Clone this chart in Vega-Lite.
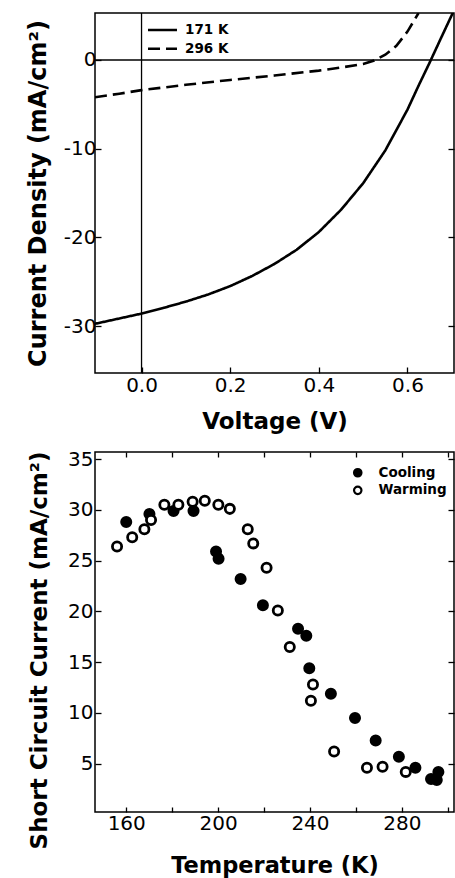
{
  "$schema": "https://vega.github.io/schema/vega-lite/v6.json",
  "padding": {"left": 25, "top": 11, "right": 0, "bottom": 0},
  "background": "white",
  "spacing": 14,
  "config": {
    "view": {"stroke": "black", "strokeWidth": 1.5},
    "font": "DejaVu Sans",
    "axis": {
      "grid": false, "domain": false, "ticks": true, "tickColor": "black", "tickWidth": 1.3, "tickSize": -6,
      "labelFont": "DejaVu Sans", "labelFontSize": 20, "labelColor": "black", "labelPadding": 5,
      "labelExpr": "replace(datum.label, '−', '-')",
      "titleFont": "DejaVu Sans", "titleFontWeight": "bold", "titleColor": "black", "titleFontSize": 23
    }
  },
  "vconcat": [
    {
      "width": 359,
      "height": 360,
      "resolve": {"axis": {"x": "independent", "y": "independent"}},
      "layer": [
        {
          "data": {"values": [
            {"voltage": -0.105, "current": -29.75, "series": "171 K"},
            {"voltage": -0.05, "current": -29.15, "series": "171 K"},
            {"voltage": 0.0, "current": -28.6, "series": "171 K"},
            {"voltage": 0.05, "current": -27.95, "series": "171 K"},
            {"voltage": 0.1, "current": -27.25, "series": "171 K"},
            {"voltage": 0.15, "current": -26.45, "series": "171 K"},
            {"voltage": 0.2, "current": -25.5, "series": "171 K"},
            {"voltage": 0.25, "current": -24.35, "series": "171 K"},
            {"voltage": 0.3, "current": -23.0, "series": "171 K"},
            {"voltage": 0.35, "current": -21.4, "series": "171 K"},
            {"voltage": 0.4, "current": -19.4, "series": "171 K"},
            {"voltage": 0.45, "current": -16.9, "series": "171 K"},
            {"voltage": 0.5, "current": -13.9, "series": "171 K"},
            {"voltage": 0.55, "current": -10.2, "series": "171 K"},
            {"voltage": 0.6, "current": -5.6, "series": "171 K"},
            {"voltage": 0.625, "current": -2.9, "series": "171 K"},
            {"voltage": 0.65, "current": -0.3, "series": "171 K"},
            {"voltage": 0.675, "current": 2.4, "series": "171 K"},
            {"voltage": 0.705, "current": 5.6, "series": "171 K"},
            {"voltage": -0.105, "current": -4.2, "series": "296 K"},
            {"voltage": -0.05, "current": -3.8, "series": "296 K"},
            {"voltage": 0.0, "current": -3.4, "series": "296 K"},
            {"voltage": 0.1, "current": -2.8, "series": "296 K"},
            {"voltage": 0.2, "current": -2.25, "series": "296 K"},
            {"voltage": 0.3, "current": -1.75, "series": "296 K"},
            {"voltage": 0.4, "current": -1.2, "series": "296 K"},
            {"voltage": 0.45, "current": -0.85, "series": "296 K"},
            {"voltage": 0.5, "current": -0.45, "series": "296 K"},
            {"voltage": 0.525, "current": -0.05, "series": "296 K"},
            {"voltage": 0.55, "current": 0.6, "series": "296 K"},
            {"voltage": 0.575, "current": 1.6, "series": "296 K"},
            {"voltage": 0.6, "current": 3.2, "series": "296 K"},
            {"voltage": 0.625, "current": 5.3, "series": "296 K"}
          ]},
          "mark": {"type": "line", "color": "black", "strokeWidth": 2.6, "clip": true},
          "encoding": {
            "x": {"field": "voltage", "type": "quantitative",
                  "scale": {"domain": [-0.105, 0.705], "nice": false, "zero": false},
                  "axis": {"values": [0, 0.2, 0.4, 0.6], "format": ".1f", "title": "Voltage (V)", "labelPadding": 8, "titlePadding": 15}},
            "y": {"field": "current", "type": "quantitative",
                  "scale": {"domain": [-35.3, 5.3], "nice": false, "zero": false},
                  "axis": {"values": [-30, -20, -10, 0], "title": "Current Density (mA/cm²)", "titleFontSize": 24, "titlePadding": 13}},
            "strokeDash": {"field": "series", "type": "nominal",
                  "scale": {"domain": ["171 K", "296 K"], "range": [[1, 0], [12, 6]]},
                  "legend": {"title": null, "orient": "none", "legendX": 59, "legendY": 8.5, "symbolType": "M-2,0H2", "symbolSize": 210, "symbolStrokeWidth": 2.5, "symbolStrokeColor": "black", "symbolFillColor": "transparent", "labelFont": "DejaVu Sans", "labelFontWeight": "bold", "labelFontSize": 13.5, "labelColor": "black", "labelOffset": 14, "padding": 0, "rowPadding": 3.8}},
            "detail": {"field": "series"}
          }
        },
        {
          "data": {"values": [{"current": 0}]},
          "mark": {"type": "rule", "color": "black", "strokeWidth": 1.3},
          "encoding": {
            "y": {"field": "current", "type": "quantitative",
                  "axis": {"orient": "right", "values": [-30, -20, -10, 0], "labels": false, "title": null}}
          }
        },
        {
          "data": {"values": [{"voltage": 0}]},
          "mark": {"type": "rule", "color": "black", "strokeWidth": 1.3},
          "encoding": {
            "x": {"field": "voltage", "type": "quantitative", "axis": null}
          }
        }
      ]
    },
    {
      "width": 359,
      "height": 360,
      "resolve": {"axis": {"x": "independent", "y": "independent"}},
      "data": {"values": [
        {"T": 160.0, "I": 28.8, "series": "Cooling"},
        {"T": 170.1, "I": 29.6, "series": "Cooling"},
        {"T": 180.6, "I": 29.9, "series": "Cooling"},
        {"T": 189.3, "I": 29.9, "series": "Cooling"},
        {"T": 199.1, "I": 25.9, "series": "Cooling"},
        {"T": 200.2, "I": 25.2, "series": "Cooling"},
        {"T": 209.8, "I": 23.2, "series": "Cooling"},
        {"T": 219.5, "I": 20.6, "series": "Cooling"},
        {"T": 234.8, "I": 18.3, "series": "Cooling"},
        {"T": 238.4, "I": 17.6, "series": "Cooling"},
        {"T": 239.7, "I": 14.4, "series": "Cooling"},
        {"T": 249.1, "I": 11.9, "series": "Cooling"},
        {"T": 259.6, "I": 9.5, "series": "Cooling"},
        {"T": 268.6, "I": 7.3, "series": "Cooling"},
        {"T": 278.7, "I": 5.7, "series": "Cooling"},
        {"T": 285.9, "I": 4.6, "series": "Cooling"},
        {"T": 292.7, "I": 3.5, "series": "Cooling"},
        {"T": 295.9, "I": 4.2, "series": "Cooling"},
        {"T": 295.2, "I": 3.4, "series": "Cooling"},
        {"T": 156.0, "I": 26.4, "series": "Warming"},
        {"T": 162.6, "I": 27.3, "series": "Warming"},
        {"T": 167.9, "I": 28.1, "series": "Warming"},
        {"T": 170.8, "I": 29.0, "series": "Warming"},
        {"T": 176.6, "I": 30.5, "series": "Warming"},
        {"T": 182.7, "I": 30.5, "series": "Warming"},
        {"T": 188.9, "I": 30.8, "series": "Warming"},
        {"T": 194.2, "I": 30.9, "series": "Warming"},
        {"T": 200.1, "I": 30.5, "series": "Warming"},
        {"T": 205.1, "I": 30.1, "series": "Warming"},
        {"T": 212.9, "I": 28.1, "series": "Warming"},
        {"T": 215.3, "I": 26.7, "series": "Warming"},
        {"T": 221.1, "I": 24.3, "series": "Warming"},
        {"T": 226.0, "I": 20.1, "series": "Warming"},
        {"T": 231.2, "I": 16.5, "series": "Warming"},
        {"T": 241.3, "I": 12.8, "series": "Warming"},
        {"T": 240.4, "I": 11.2, "series": "Warming"},
        {"T": 250.5, "I": 6.2, "series": "Warming"},
        {"T": 264.8, "I": 4.6, "series": "Warming"},
        {"T": 271.6, "I": 4.7, "series": "Warming"},
        {"T": 281.7, "I": 4.2, "series": "Warming"}
      ]},
      "layer": [
        {
          "mark": {"type": "circle", "stroke": "black", "strokeWidth": 2.8, "size": 85, "opacity": 1},
          "encoding": {
            "x": {"field": "T", "type": "quantitative",
                  "scale": {"domain": [146.4, 302.7], "nice": false, "zero": false},
                  "axis": {"values": [160, 180, 200, 220, 240, 260, 280, 300], "labelExpr": "datum.value % 40 == 0 ? datum.label : ''", "tickSize": -5, "title": "Temperature (K)", "titleFontSize": 22.5, "labelPadding": 6, "titlePadding": 21}},
            "y": {"field": "I", "type": "quantitative",
                  "scale": {"domain": [0.25, 35.7], "nice": false, "zero": false},
                  "axis": {"values": [5, 10, 15, 20, 25, 30, 35], "title": "Short Circuit Current (mA/cm²)", "titleY": 198, "labelPadding": 8, "titlePadding": 16}},
            "fill": {"field": "series", "type": "nominal",
                  "scale": {"domain": ["Cooling", "Warming"], "range": ["black", "white"]},
                  "legend": {"title": null, "orient": "none", "legendX": 256, "legendY": 453, "symbolType": "circle", "symbolSize": 55, "symbolStrokeWidth": 2.2, "symbolStrokeColor": "black", "labelFont": "DejaVu Sans", "labelFontWeight": "bold", "labelFontSize": 13.5, "labelColor": "black", "labelOffset": 14, "padding": 0, "rowPadding": 0.6}}
          }
        },
        {
          "mark": {"type": "circle", "opacity": 0},
          "encoding": {
            "x": {"field": "T", "type": "quantitative",
                  "axis": {"orient": "top", "values": [160, 180, 200, 220, 240, 260, 280, 300], "labels": false, "tickSize": -5, "title": null}},
            "y": {"field": "I", "type": "quantitative",
                  "axis": {"orient": "right", "values": [5, 10, 15, 20, 25, 30, 35], "labels": false, "title": null}}
          }
        }
      ]
    }
  ]
}
